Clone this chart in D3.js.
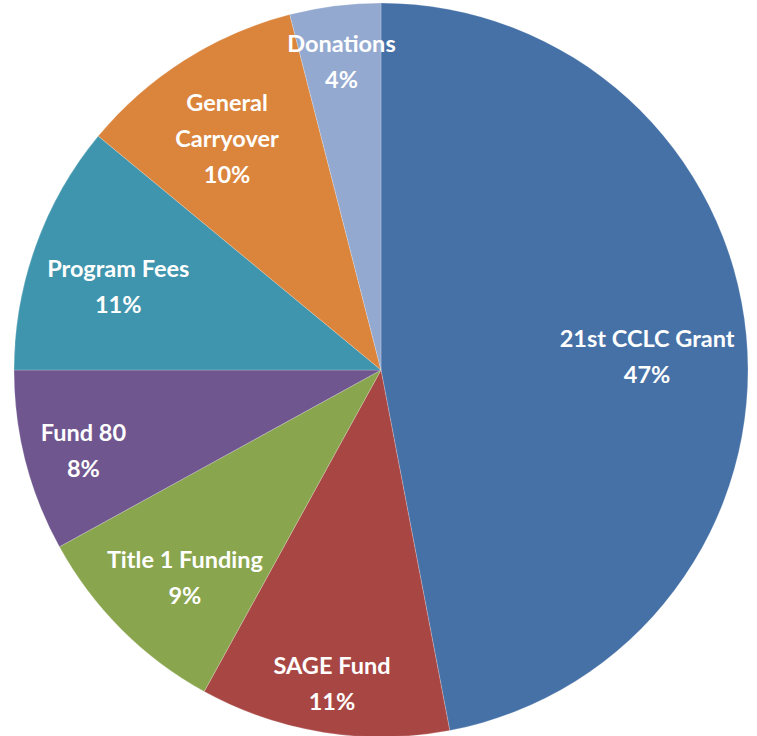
<!DOCTYPE html>
<html>
<head>
<meta charset="utf-8">
<script src="https://cdn.jsdelivr.net/npm/d3@7"></script>
<style>
  html, body { margin: 0; padding: 0; background: #fff; }
  svg text { font-family: Lato, "Open Sans", sans-serif; font-weight: bold; fill: #fff; }
</style>
</head>
<body>
<div id="chart"></div>
<script>
'use strict';

// funding sources, clockwise from 12 o'clock
var categories = ['21st CCLC Grant', 'SAGE Fund', 'Title 1 Funding', 'Fund 80', 'Program Fees', 'General Carryover', 'Donations'];
var values = [47, 11, 9, 8, 11, 10, 4];
var labelLines = [['21st CCLC Grant'], ['SAGE Fund'], ['Title 1 Funding'], ['Fund 80'], ['Program Fees'], ['General', 'Carryover'], ['Donations']];
var colors = ['#4671a7', '#a84644', '#89a54e', '#6f568f', '#3f95ad', '#da843c', '#93a9cf'];

var width = 757, height = 736;
var cx = 381, cy = 370, radius = 367;
var lineH = 36;

var data = categories.map(function(c, i){
	return { name: c, value: values[i], lines: labelLines[i], color: colors[i] };
});

var svg = d3.select('#chart').append('svg')
	.attr('width', width)
	.attr('height', height);

var g = svg.append('g')
	.attr('transform', 'translate(' + cx + ',' + cy + ')');

var pie = d3.pie().sort(null).value(function(d){ return d.value; });
var arc = d3.arc().innerRadius(0).outerRadius(radius);
var arcs = pie(data);

g.selectAll('path.slice')
	.data(arcs)
	.enter().append('path')
		.attr('class', 'slice')
		.attr('d', arc)
		.attr('fill', function(d){ return d.data.color; })
		.attr('stroke', 'rgba(255,255,255,0.3)')
		.attr('stroke-width', 0.7);

var labels = g.selectAll('g.label')
	.data(arcs)
	.enter().append('g')
		.attr('class', 'label');

labels.each(function(d){
	var lab = d3.select(this);
	var lines = d.data.lines.concat([d.data.value + '%']);
	var n = lines.length;
	lines.forEach(function(t, i){
		lab.append('text')
			.attr('text-anchor', 'middle')
			.attr('dy', ((i - (n - 1)/2) * lineH + 8) + 'px')
			.style('font-size', '23.5px')
			.text(t);
	});
	// bounding box of the block, then move inward along the bisector until it fits
	var w = d3.max(lab.selectAll('text').nodes(), function(n){ return n.getComputedTextLength(); });
	var h = n * lineH - 6;
	var mid = (d.startAngle + d.endAngle)/2;
	var limit = radius - 8;
	var rho = radius * 0.87;
	var x, y;
	for(; rho > 0; rho -= 2){
		x = Math.sin(mid) * rho;
		y = -Math.cos(mid) * rho;
		var corners = [[x - w/2, y - h/2], [x + w/2, y - h/2], [x - w/2, y + h/2], [x + w/2, y + h/2]];
		var ok = corners.every(function(p){ return Math.hypot(p[0], p[1]) <= limit; });
		if(ok) break;
	}
	// blocks that had to be pulled in sit a little lower, like the reference
	var pulled = rho < radius * 0.8 ? 12 : 5;
	lab.attr('transform', 'translate(' + x + ',' + (y + pulled) + ')');
});
</script>
</body>
</html>
